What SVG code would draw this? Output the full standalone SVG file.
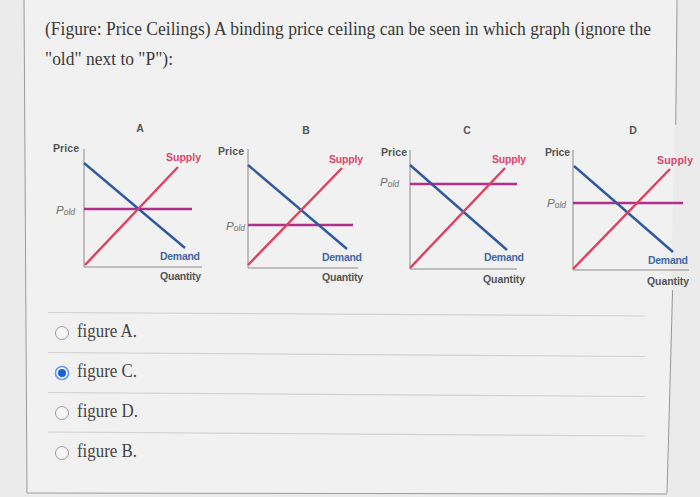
<svg xmlns="http://www.w3.org/2000/svg" width="700" height="497" viewBox="0 0 700 497">
<style>
.hd{font-family:"Liberation Serif","Times New Roman",serif;font-size:18px;fill:#3a3a3a}
.opt{font-family:"Liberation Serif","Times New Roman",serif;font-size:18px;fill:#444}
.lb{font-family:"Liberation Sans",Arial,sans-serif;font-size:10.5px;font-weight:bold;fill:#555}
.sup{font-family:"Liberation Sans",Arial,sans-serif;font-size:10.5px;font-weight:bold;fill:#d8466b}
.dem{font-family:"Liberation Sans",Arial,sans-serif;font-size:10.5px;font-weight:bold;fill:#3f68a6}
.pl{font-family:"Liberation Sans",Arial,sans-serif;font-style:italic;fill:#6e6e6e;font-size:11.5px}
.pl tspan{font-size:8.5px}
.ax{stroke:#8a8a8a;stroke-width:1;fill:none}
.d{stroke:#2f5a9e;stroke-width:2.4;fill:none}
.s{stroke:#e0405e;stroke-width:2.4;fill:none}
.p{stroke:#b0308a;stroke-width:2.6;fill:none}
.sep{stroke:#d2d2d2;stroke-width:1.2}
.fr{stroke:#9a9a9a;stroke-width:1;fill:none}
.rb{fill:#f6f6f6;stroke:#9a9a9a;stroke-width:1}
</style>
<rect x="0" y="0" width="700" height="497" fill="#ebebeb"/>
<polygon points="24,0 677,0 667,493 27,493" fill="#f1f1f1"/>
<g id="frame">
<line class="fr" x1="24" y1="0" x2="27" y2="493"/>
<line class="fr" x1="677" y1="0" x2="675.8" y2="125"/>
<line class="fr" x1="672.6" y1="290" x2="667" y2="493"/>
<line class="fr" x1="27" y1="493" x2="667" y2="494"/>
</g>
<g id="question">
<text class="hd" x="45" y="35" textLength="606" lengthAdjust="spacingAndGlyphs">(Figure: Price Ceilings) A binding price ceiling can be seen in which graph (ignore the</text>
<text class="hd" x="45" y="65" textLength="128" lengthAdjust="spacingAndGlyphs">"old" next to "P"):</text>
</g>
<g id="graphA">
<text class="lb" x="140" y="132" text-anchor="middle">A</text>
<text class="lb" x="53" y="152" textLength="26">Price</text>
<line class="ax" x1="84" y1="149" x2="84" y2="267"/>
<line class="ax" x1="84" y1="267" x2="202" y2="267"/>
<line class="p" x1="84" y1="209" x2="192" y2="209"/>
<line class="d" x1="84" y1="163" x2="185" y2="248"/>
<line class="s" x1="85" y1="265" x2="178" y2="167"/>
<text class="sup" x="166" y="161" textLength="35">Supply</text>
<text class="dem" x="160" y="260" textLength="40">Demand</text>
<text class="lb" x="160" y="280" textLength="41">Quantity</text>
<text class="pl" x="56" y="214">P<tspan dy="1">old</tspan></text>
</g>
<g id="graphB">
<text class="lb" x="306" y="134" text-anchor="middle">B</text>
<text class="lb" x="218" y="155" textLength="26">Price</text>
<line class="ax" x1="248" y1="149" x2="248" y2="268"/>
<line class="ax" x1="248" y1="268" x2="358" y2="268"/>
<line class="p" x1="248" y1="225" x2="353" y2="225"/>
<line class="d" x1="248" y1="165" x2="347" y2="249"/>
<line class="s" x1="248" y1="265" x2="342" y2="168"/>
<text class="sup" x="329" y="163" textLength="34">Supply</text>
<text class="dem" x="322" y="261" textLength="40">Demand</text>
<text class="lb" x="322" y="281" textLength="41">Quantity</text>
<text class="pl" x="226" y="230">P<tspan dy="1">old</tspan></text>
</g>
<g id="graphC">
<text class="lb" x="467" y="134" text-anchor="middle">C</text>
<text class="lb" x="381" y="156" textLength="26">Price</text>
<line class="ax" x1="410" y1="150" x2="410" y2="269"/>
<line class="ax" x1="410" y1="269" x2="517" y2="269"/>
<line class="p" x1="410" y1="184" x2="517" y2="184"/>
<line class="d" x1="410" y1="165" x2="507" y2="250"/>
<line class="s" x1="410" y1="268" x2="505" y2="168"/>
<text class="sup" x="492" y="163" textLength="34">Supply</text>
<text class="dem" x="484" y="261" textLength="40">Demand</text>
<text class="lb" x="483" y="283" textLength="42">Quantity</text>
<text class="pl" x="380" y="186">P<tspan dy="1">old</tspan></text>
</g>
<g id="graphD">
<text class="lb" x="633" y="134" text-anchor="middle">D</text>
<text class="lb" x="545" y="156" textLength="25">Price</text>
<line class="ax" x1="573" y1="150" x2="573" y2="270"/>
<line class="ax" x1="573" y1="270" x2="689" y2="270"/>
<line class="p" x1="573" y1="203" x2="683" y2="203"/>
<line class="d" x1="574" y1="166" x2="673" y2="252"/>
<line class="s" x1="573" y1="269" x2="670" y2="169"/>
<text class="sup" x="657" y="164" textLength="36">Supply</text>
<text class="dem" x="648" y="264" textLength="40">Demand</text>
<text class="lb" x="647" y="285" textLength="42">Quantity</text>
<text class="pl" x="547" y="207">P<tspan dy="1">old</tspan></text>
</g>
<g id="separators">
<line class="sep" x1="48" y1="312.5" x2="645" y2="316"/>
<line class="sep" x1="48" y1="352.5" x2="645" y2="356.5"/>
<line class="sep" x1="48" y1="392.5" x2="645" y2="396.5"/>
<line class="sep" x1="48" y1="432" x2="645" y2="436"/>
</g>
<g id="optionA">
<circle class="rb" cx="62" cy="333" r="6.5"/>
<text class="opt" x="77" y="337" textLength="60" lengthAdjust="spacingAndGlyphs">figure A.</text>
</g>
<g id="optionC">
<circle cx="62" cy="373" r="6.5" fill="#ffffff" stroke="#5b9bf0" stroke-width="1.6"/>
<circle cx="62" cy="373" r="4" fill="#1c5fd8"/>
<text class="opt" x="77" y="377" textLength="60" lengthAdjust="spacingAndGlyphs">figure C.</text>
</g>
<g id="optionD">
<circle class="rb" cx="62" cy="413" r="6.5"/>
<text class="opt" x="77" y="417" textLength="61" lengthAdjust="spacingAndGlyphs">figure D.</text>
</g>
<g id="optionB">
<circle class="rb" cx="62" cy="453" r="6.5"/>
<text class="opt" x="77" y="457" textLength="60" lengthAdjust="spacingAndGlyphs">figure B.</text>
</g>
</svg>
